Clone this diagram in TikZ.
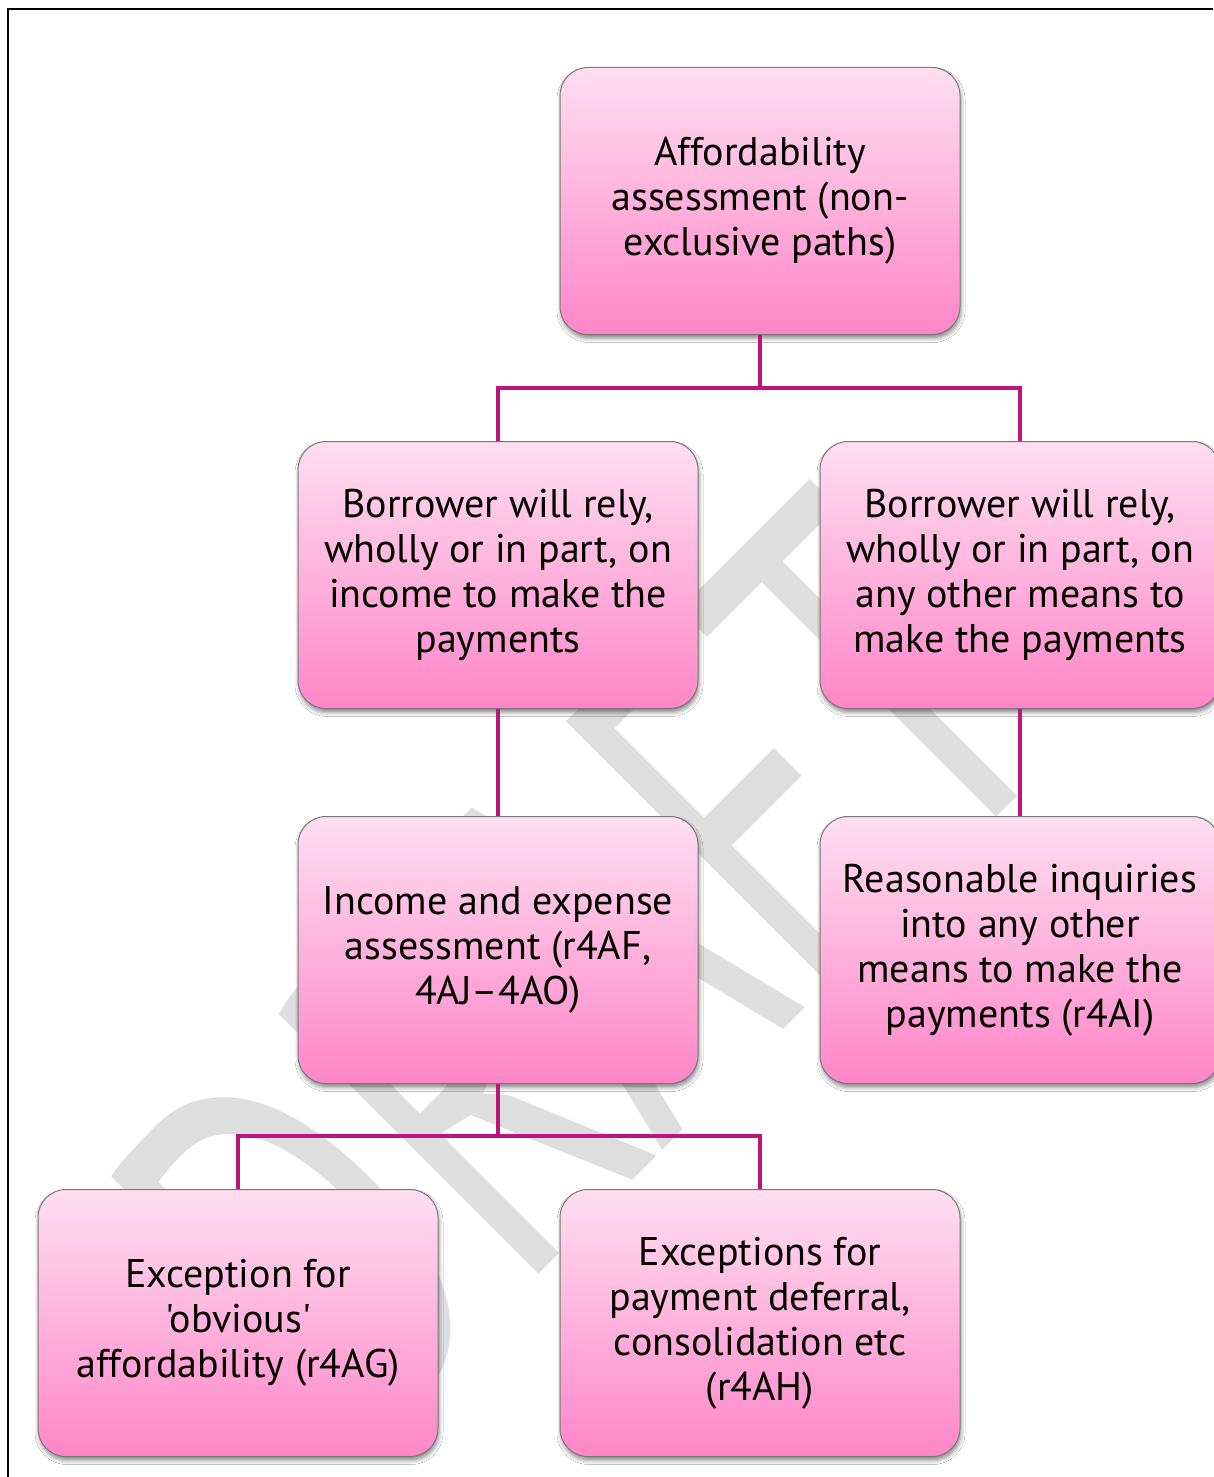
\documentclass[tikz,border=0pt]{standalone}
\usepackage{fontspec}
\setmainfont{PT Sans}[Ligatures=TeXOff]
\usetikzlibrary{shadows.blur}
\definecolor{conn}{RGB}{192,20,125}
\definecolor{boxtop}{RGB}{255,222,240}
\definecolor{boxbot}{RGB}{255,134,200}
\definecolor{boxline}{RGB}{120,120,120}
\definecolor{wmgray}{RGB}{222,222,222}
\begin{document}
\begin{tikzpicture}[x=1pt,y=-1pt,
  card/.style={rectangle, rounded corners=28pt, draw=boxline, line width=1pt,
    top color=boxtop, bottom color=boxbot,
    minimum width=400pt, minimum height=267pt, inner sep=0pt, align=center,
    font=\fontsize{40}{45}\selectfont,
    blur shadow={shadow xshift=1pt, shadow yshift=-4pt, shadow blur radius=4pt, shadow opacity=45}},
  link/.style={draw=conn, line width=4pt},
  frameline/.style={draw=black, line width=2.5pt}]
\useasboundingbox (0,0) rectangle (1213,1477);
\fill[white] (0,0) rectangle (1213,1477);
% watermark
\node[rotate=45, text=wmgray, font=\fontsize{530}{530}\selectfont, inner sep=0pt] (wm) at (583,967) {\scalebox{0.67}[1]{DRAFT}};
% frame
\draw[frameline] (8,1477) -- (8,9) -- (1213,9);
% boxes
\node[card] (top) at (760,201) {Affordability\\assessment (non-\\exclusive paths)};
\node[card] (inc) at (498,575) {Borrower will rely,\\wholly or in part, on\\income to make the\\payments};
\node[card] (oth) at (1020,575) {Borrower will rely,\\wholly or in part, on\\any other means to\\make the payments};
\node[card] (iea) at (498,950) {Income and expense\\assessment (r4AF,\\4AJ–4AO)};
\node[card] (rea) at (1020,950) {Reasonable inquiries\\into any other\\means to make the\\payments (r4AI)};
\node[card] (obv) at (238,1323) {Exception for\\'obvious'\\affordability (r4AG)};
\node[card] (def) at (760,1323) {Exceptions for\\payment deferral,\\consolidation etc\\(r4AH)};
% connectors
\coordinate (j1) at (760,388);
\coordinate (j2) at (498,1136);
\draw[link] (top.south) -- (j1);
\draw[link] (inc.north) |- (j1) -| (oth.north);
\draw[link] (inc.south) -- (iea.north);
\draw[link] (oth.south) -- (rea.north);
\draw[link] (iea.south) -- (j2);
\draw[link] (obv.north) |- (j2) -| (def.north);
\end{tikzpicture}
\end{document}
